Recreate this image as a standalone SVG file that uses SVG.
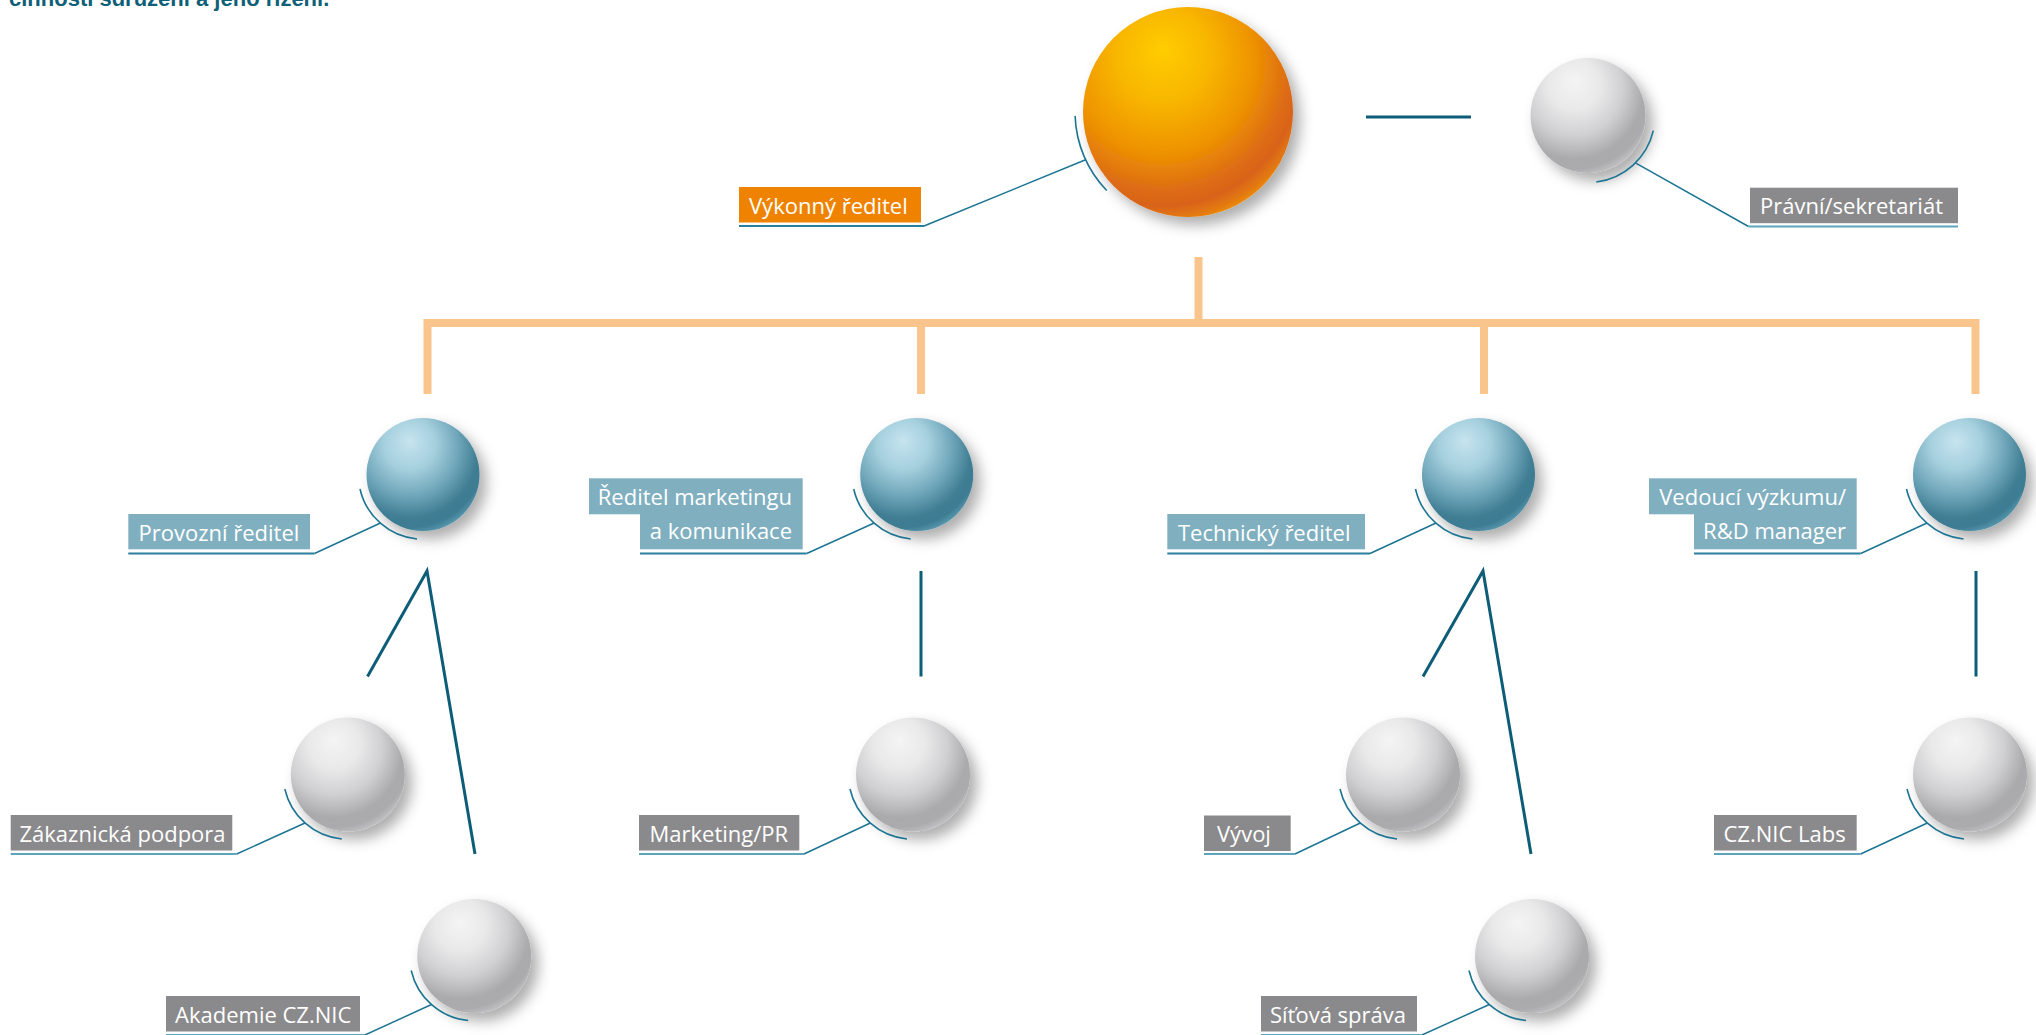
<svg xmlns="http://www.w3.org/2000/svg" width="2036" height="1035" viewBox="0 0 2036 1035">
<style>
.lbl{font-family:"Open Sans","Liberation Sans",sans-serif;font-size:22px;fill:#ffffff}
.r{text-anchor:end}
.bo{fill:#ef8300}
.bb{fill:#80afc0}
.bg{fill:#8a8a8c}
.arc{fill:none;stroke:#1d7593;stroke-width:1.6}
.lead{fill:none;stroke:#1d7593;stroke-width:1.5}
.ul{fill:none;stroke:#2a7f9c;stroke-width:2}
.ulg{fill:none;stroke:#5da3bb;stroke-width:2}
.tree{fill:none;stroke:#f9c58c;stroke-width:8;stroke-linejoin:miter}
.teal{fill:none;stroke:#0d5d78;stroke-width:3}
</style>
<defs>
<filter id="sh" x="-30%" y="-30%" width="170%" height="170%">
<feDropShadow dx="7" dy="8" stdDeviation="7" flood-color="#000" flood-opacity="0.32"/>
</filter>
<radialGradient id="gOrange" cx="0.38" cy="0.3" r="0.75" fx="0.38" fy="0.2">
<stop offset="0" stop-color="#ffcd00"/>
<stop offset="0.3" stop-color="#f8b600"/>
<stop offset="0.58" stop-color="#ee9300"/>
<stop offset="0.8" stop-color="#dd6b15"/>
<stop offset="0.88" stop-color="#d8631a"/>
<stop offset="0.95" stop-color="#e47a10"/>
<stop offset="1" stop-color="#f09600"/>
</radialGradient>
<radialGradient id="gBlue" cx="0.38" cy="0.3" r="0.75" fx="0.38" fy="0.2">
<stop offset="0" stop-color="#c6e4ef"/>
<stop offset="0.3" stop-color="#a6d0de"/>
<stop offset="0.56" stop-color="#73a9bc"/>
<stop offset="0.8" stop-color="#407e94"/>
<stop offset="0.9" stop-color="#3c7b91"/>
<stop offset="1" stop-color="#5e9db3"/>
</radialGradient>
<radialGradient id="gGray" cx="0.38" cy="0.3" r="0.75" fx="0.38" fy="0.2">
<stop offset="0" stop-color="#f4f4f5"/>
<stop offset="0.3" stop-color="#e9e9ea"/>
<stop offset="0.56" stop-color="#d0d0d2"/>
<stop offset="0.8" stop-color="#aaaaac"/>
<stop offset="0.9" stop-color="#ababad"/>
<stop offset="1" stop-color="#c6c6c8"/>
</radialGradient>
</defs>
<rect width="2036" height="1035" fill="#ffffff"/>
<text x="9" y="6" font-family="'Liberation Sans',Arial,sans-serif" font-size="22" font-weight="bold" fill="#0f5f78">činnosti sdružení a jeho řízení.</text>

<g id="connectors">
<path class="tree" d="M1198.5 257V323M427.5 394V323H1975.5V394M921 323V394M1484 323V394"/>
<path class="teal" d="M1366 117H1471"/>
<path class="teal" d="M367.5 676.5L427 571L475 854"/>
<path class="teal" d="M921 571V676.5"/>
<path class="teal" d="M1423 676.5L1483 571L1531 854"/>
<path class="teal" d="M1976 571V676.5"/>
</g>

<g id="exec">
<circle cx="1188" cy="112" r="105" fill="url(#gOrange)" filter="url(#sh)"/>
<path class="arc" d="M1075.1 115.9A113 113 0 0 0 1106.7 190.5"/>
<path class="lead" d="M1085.6 159.8L924 226"/>
<path class="ul" d="M739 226H924"/>
<rect class="bo" x="739" y="187" width="182" height="35.5"/>
<text class="lbl" x="749" y="213.5">Výkonný ředitel</text>
</g>

<g id="legal">
<circle cx="1588" cy="115.5" r="57.5" fill="url(#gGray)" filter="url(#sh)"/>
<path class="arc" d="M1653.3 130.6A67 67 0 0 1 1596.2 182"/>
<path class="lead" d="M1635.4 162.9L1748.5 226.5"/>
<path class="ulg" d="M1748.5 226.5H1958"/>
<rect class="bg" x="1750" y="187.7" width="208" height="35.5"/>
<text class="lbl" x="1760" y="214">Právní/sekretariát</text>
</g>

<g id="ops">
<circle cx="423" cy="474.5" r="56.5" fill="url(#gBlue)" filter="url(#sh)"/>
<path class="arc" d="M360 489A64.7 64.7 0 0 0 417 539"/>
<path class="lead" d="M380.5 523L314.5 553.5"/>
<path class="ul" d="M128.3 553.5H314.5"/>
<rect class="bb" x="128.3" y="514" width="181.7" height="35.3"/>
<text class="lbl" x="138.5" y="540.5">Provozní ředitel</text>
</g>

<g id="mkt">
<circle cx="916.7" cy="474.5" r="56.5" fill="url(#gBlue)" filter="url(#sh)"/>
<path class="arc" d="M853.7 489A64.7 64.7 0 0 0 910.7 539"/>
<path class="lead" d="M874.2 523L806.7 553.5"/>
<path class="ul" d="M640 553.5H806.7"/>
<rect class="bb" x="589" y="478.3" width="213.7" height="36"/>
<rect class="bb" x="640" y="514" width="162.7" height="35.3"/>
<text class="lbl r" x="792" y="505">Ředitel marketingu</text>
<text class="lbl r" x="792" y="538.5">a komunikace</text>
</g>

<g id="tech">
<circle cx="1478.5" cy="474.5" r="56.5" fill="url(#gBlue)" filter="url(#sh)"/>
<path class="arc" d="M1415.5 489A64.7 64.7 0 0 0 1472.5 539"/>
<path class="lead" d="M1436 523L1370 553.5"/>
<path class="ul" d="M1167.3 553.5H1370"/>
<rect class="bb" x="1167.3" y="514" width="197.7" height="35.3"/>
<text class="lbl" x="1178" y="540.5">Technický ředitel</text>
</g>

<g id="rnd">
<circle cx="1969.5" cy="474.5" r="56.5" fill="url(#gBlue)" filter="url(#sh)"/>
<path class="arc" d="M1906.5 489A64.7 64.7 0 0 0 1963.5 539"/>
<path class="lead" d="M1927 523L1860.7 553.5"/>
<path class="ul" d="M1694 553.5H1860.7"/>
<rect class="bb" x="1649" y="478.3" width="207.7" height="36"/>
<rect class="bb" x="1694" y="514" width="162.7" height="35.3"/>
<text class="lbl r" x="1846" y="505">Vedoucí výzkumu/</text>
<text class="lbl r" x="1846" y="538.5">R&amp;D manager</text>
</g>

<g id="support">
<circle cx="347.8" cy="774.5" r="57" fill="url(#gGray)" filter="url(#sh)"/>
<path class="arc" d="M284.8 789A64.7 64.7 0 0 0 341.8 839"/>
<path class="lead" d="M305 823L236.7 854"/>
<path class="ulg" d="M10.7 854H236.7"/>
<rect class="bg" x="10.7" y="815" width="221.6" height="35.5"/>
<text class="lbl" x="19.5" y="841.5">Zákaznická podpora</text>
</g>

<g id="mktpr">
<circle cx="913" cy="774.5" r="57" fill="url(#gGray)" filter="url(#sh)"/>
<path class="arc" d="M850 789A64.7 64.7 0 0 0 907 839"/>
<path class="lead" d="M870.3 823L804 854"/>
<path class="ulg" d="M639 854H804"/>
<rect class="bg" x="639" y="815" width="160.3" height="35.5"/>
<text class="lbl" x="649.5" y="841.5">Marketing/PR</text>
</g>

<g id="dev">
<circle cx="1403" cy="774.5" r="57" fill="url(#gGray)" filter="url(#sh)"/>
<path class="arc" d="M1340 789A64.7 64.7 0 0 0 1397 839"/>
<path class="lead" d="M1360.3 823L1295 854"/>
<path class="ulg" d="M1204 854H1295"/>
<rect class="bg" x="1204" y="815.5" width="86.7" height="35.5"/>
<text class="lbl" x="1217" y="842">Vývoj</text>
</g>

<g id="labs">
<circle cx="1970" cy="774.5" r="57" fill="url(#gGray)" filter="url(#sh)"/>
<path class="arc" d="M1907 789A64.7 64.7 0 0 0 1964 839"/>
<path class="lead" d="M1927.3 823L1860.7 854"/>
<path class="ulg" d="M1714 854H1860.7"/>
<rect class="bg" x="1714" y="815" width="142.7" height="35.5"/>
<text class="lbl" x="1723.5" y="841.5">CZ.NIC Labs</text>
</g>

<g id="academy">
<circle cx="474.2" cy="956" r="57" fill="url(#gGray)" filter="url(#sh)"/>
<path class="arc" d="M411.2 970.5A64.7 64.7 0 0 0 468.2 1020.5"/>
<path class="lead" d="M431.5 1004.5L365 1035"/>
<path class="ulg" d="M166 1035H365"/>
<rect class="bg" x="166" y="996" width="194" height="35.5"/>
<text class="lbl" x="175" y="1022.5">Akademie CZ.NIC</text>
</g>

<g id="network">
<circle cx="1532" cy="956" r="57" fill="url(#gGray)" filter="url(#sh)"/>
<path class="arc" d="M1469 970.5A64.7 64.7 0 0 0 1526 1020.5"/>
<path class="lead" d="M1489.3 1004.5L1422 1035"/>
<path class="ulg" d="M1261 1035H1422"/>
<rect class="bg" x="1261" y="996" width="156" height="35.5"/>
<text class="lbl" x="1270" y="1022.5">Síťová správa</text>
</g>
</svg>
